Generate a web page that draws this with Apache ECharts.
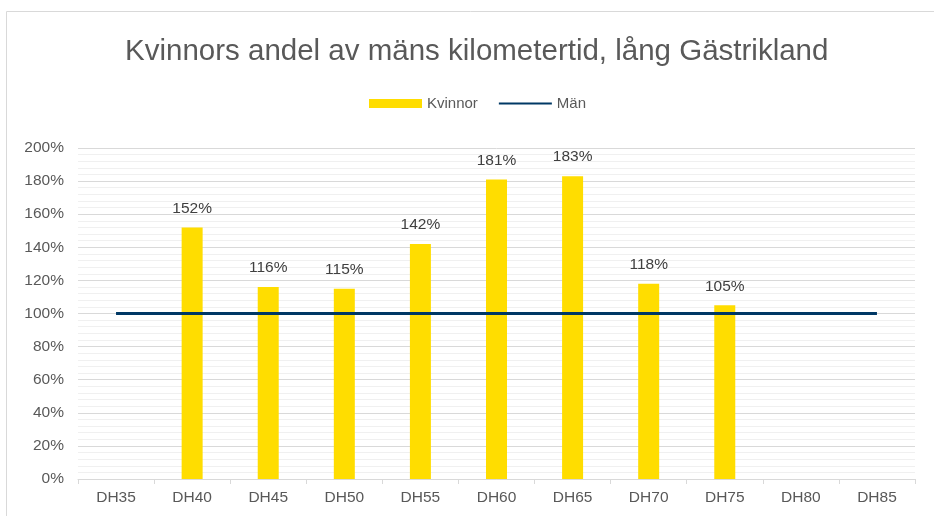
<!DOCTYPE html>
<html>
<head>
<meta charset="utf-8">
<script src="https://cdn.jsdelivr.net/npm/echarts@6/dist/echarts.min.js"></script>
<style>
  html, body { margin: 0; padding: 0; background: #fff; }
  #chart { width: 934px; height: 516px; }
</style>
</head>
<body>
<div id="chart"></div>
<script>
// kategorier och värden (procent)
const categories = ['DH35', 'DH40', 'DH45', 'DH50', 'DH55', 'DH60', 'DH65', 'DH70', 'DH75', 'DH80', 'DH85']
const kvinnor = [null, 152, 116, 115, 142, 181, 183, 118, 105, null, null]
const man = [100, 100, 100, 100, 100, 100, 100, 100, 100, 100, 100]

const chart = echarts.init(document.getElementById('chart'))
const font = 'Liberation Sans, Arial, sans-serif'

const option = {
  animation: false,
  textStyle: { fontFamily: font },
  graphic: [{
    type: 'rect',
    shape: { x: 6.5, y: 11.5, width: 940, height: 520 },
    style: { fill: 'none', stroke: '#d9d9d9', lineWidth: 1 },
    silent: true
  }],
  title: {
    text: 'Kvinnors andel av mäns kilometertid, lång Gästrikland',
    left: 120,
    top: 32,
    textStyle: { fontSize: 29.5, fontWeight: 'normal', color: '#595959', fontFamily: font }
  },
  legend: {
    top: 91,
    left: 364,
    itemWidth: 53,
    itemHeight: 9,
    itemGap: 20,
    textStyle: { fontSize: 15, color: '#595959', fontFamily: font },
    data: [
      { name: 'Kvinnor', icon: 'rect' },
      { name: 'Män', itemStyle: { opacity: 0 } }
    ]
  },
  grid: {
    left: 78,
    right: 19,
    top: 148,
    bottom: 37
  },
  xAxis: {
    type: 'category',
    data: categories,
    axisLine: { lineStyle: { color: '#d9d9d9', width: 1 } },
    axisTick: { show: true, length: 5, lineStyle: { color: '#d9d9d9' } },
    axisLabel: { fontSize: 15.5, color: '#595959', margin: 11, fontFamily: font }
  },
  yAxis: {
    type: 'value',
    min: 0,
    max: 200,
    interval: 20,
    axisLine: { show: false },
    axisTick: { show: false },
    axisLabel: {
      fontSize: 15.5,
      color: '#595959',
      margin: 14,
      fontFamily: font,
      formatter: v => v + '%'
    },
    splitLine: { lineStyle: { color: '#d9d9d9', width: 1 } },
    minorTick: { show: false, splitNumber: 5 },
    minorSplitLine: { show: true, lineStyle: { color: '#f0f0f0', width: 1 } }
  },
  series: [
    {
      name: 'Kvinnor',
      type: 'bar',
      data: kvinnor,
      barWidth: 21,
      itemStyle: { color: '#ffdd00' },
      label: {
        show: true,
        position: 'top',
        distance: 11,
        fontSize: 15.5,
        color: '#404040',
        fontFamily: font,
        formatter: p => p.value + '%'
      }
    },
    {
      name: 'Män',
      type: 'line',
      data: man,
      symbol: 'none',
      lineStyle: { color: '#003865', width: 3 },
      itemStyle: { color: '#003865' },
      z: 3
    }
  ]
}
chart.setOption(option)
</script>
</body>
</html>
